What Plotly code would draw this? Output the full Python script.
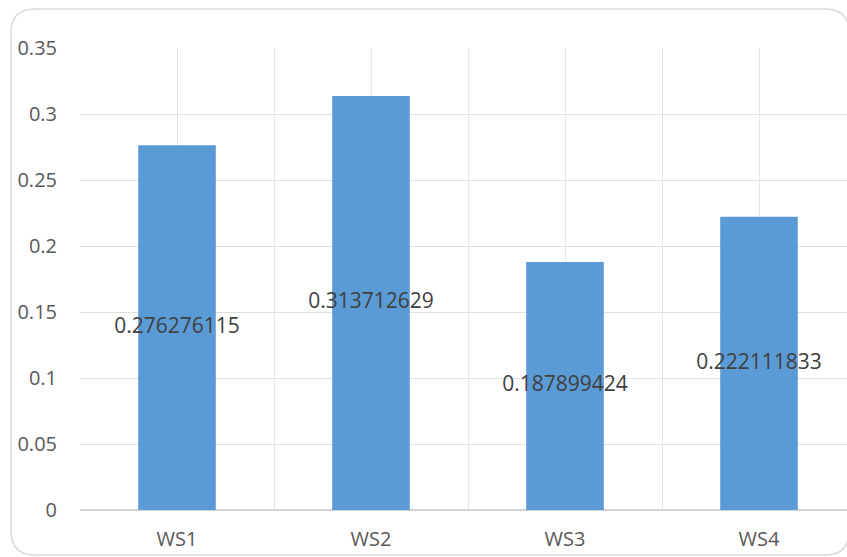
import plotly.graph_objects as go

# Series data
categories = ["WS1", "WS2", "WS3", "WS4"]
values = [0.276276115, 0.313712629, 0.187899424, 0.222111833]

W, H = 847, 557
ML, MR, MT, MB = 80, 0, 48, 47

positions = list(range(len(categories)))
labels = [f"{v:.9f}" for v in values]
label_y = [v / 2 for v in values]

fig = go.Figure()
fig.add_trace(go.Bar(
    x=positions, y=values, width=0.4,
    marker=dict(color="#5b9bd5", line=dict(width=0)),
    hoverinfo="skip",
))
fig.add_trace(go.Scatter(
    x=positions, y=label_y, mode="text", text=labels,
    textposition="middle center",
    textfont=dict(family="Open Sans", size=21, color="#404040"),
    hoverinfo="skip",
))

# Rounded chart border, defined in pixels and converted to paper units
pw, ph = W - ML - MR, H - MT - MB


def px(x):
    return (x - ML) / pw


def py(y):
    return (H - MB - y) / ph


left, right, top, bottom, r = 11, 849, 9, 555, 24
path = (
    f"M {px(left + r)},{py(top)} L {px(right - r)},{py(top)} "
    f"Q {px(right)},{py(top)} {px(right)},{py(top + r)} "
    f"L {px(right)},{py(bottom - r)} "
    f"Q {px(right)},{py(bottom)} {px(right - r)},{py(bottom)} "
    f"L {px(left + r)},{py(bottom)} "
    f"Q {px(left)},{py(bottom)} {px(left)},{py(bottom - r)} "
    f"L {px(left)},{py(top + r)} "
    f"Q {px(left)},{py(top)} {px(left + r)},{py(top)} Z"
)
fig.add_shape(type="path", path=path, xref="paper", yref="paper",
              line=dict(color="#d9d9d9", width=1.5), layer="above")

unit = 194.0  # pixels per category
fig.update_layout(
    width=W, height=H,
    margin=dict(l=ML, r=MR, t=MT, b=MB),
    paper_bgcolor="white", plot_bgcolor="white",
    showlegend=False,
    font=dict(family="Open Sans", color="#595959"),
    xaxis=dict(
        range=[-0.5, -0.5 + pw / unit],
        tickmode="array", tickvals=positions, ticktext=categories,
        tickfont=dict(size=20, color="#595959"),
        showgrid=True, gridcolor="#e6e6e6", gridwidth=1,
        minor=dict(tick0=-0.5, dtick=1, showgrid=True,
                   gridcolor="#e6e6e6", gridwidth=1),
        zeroline=False, showline=False, ticks="",
        ticklabelstandoff=15, fixedrange=True,
    ),
    yaxis=dict(
        range=[0, 0.35], dtick=0.05, tick0=0,
        tickfont=dict(size=20, color="#595959"),
        showgrid=True, gridcolor="#e0e0e0", gridwidth=1,
        zeroline=True, zerolinecolor="#d4d4d4", zerolinewidth=1.5,
        showline=False, ticks="", ticklabelstandoff=22,
        fixedrange=True,
    ),
)

fig.write_html("out.html", config={"displayModeBar": False})
